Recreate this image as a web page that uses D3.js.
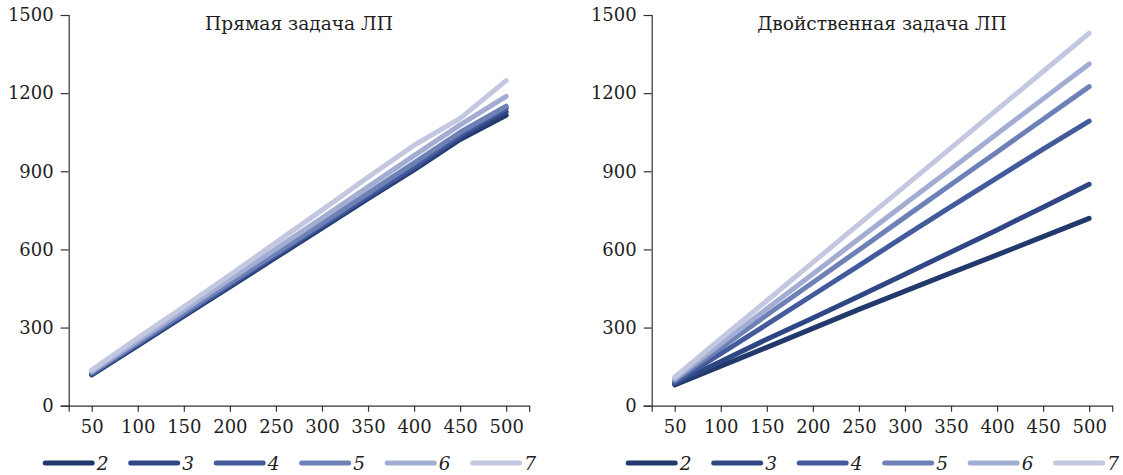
<!DOCTYPE html>
<html>

<head>
  <meta charset="utf-8">
  <title>Прямая и двойственная задача ЛП</title>
  <script src="https://cdn.jsdelivr.net/npm/d3@7/dist/d3.min.js"></script>
</head>
<style>
  html,
  body {
    margin: 0;
    padding: 0;
    overflow: hidden;
    background: #fff
  }

  svg {
    font-family: "DejaVu Serif", serif;
  }

  .axis path,
  .axis line {
    stroke: #333;
    stroke-width: 1.2;
  }

  .axis text {
    font-size: 18px;
    fill: #1e1e1e;
    font-family: "DejaVu Serif", serif;
  }
</style>

<body>
  <div id="chart"></div>
</body>
<script>
  // x values (same for both panels)
  const xValues = [50, 100, 150, 200, 250, 300, 350, 400, 450, 500]
  const seriesNames = ['2', '3', '4', '5', '6', '7']
  const colors = ['#22396b', '#2e4784', '#435b9c', '#6e81b6', '#a3acd3', '#c3c8e0']
  const yTicks = [0, 300, 600, 900, 1200, 1500]

  // Прямая задача ЛП
  const primal2 = [118, 231, 344, 456, 569, 682, 795, 905, 1022, 1115]
  const primal3 = [120, 234, 347, 460, 573, 687, 800, 910, 1030, 1128]
  const primal4 = [123, 237, 351, 465, 579, 692, 806, 920, 1040, 1142]
  const primal5 = [127, 241, 356, 471, 586, 700, 816, 932, 1050, 1150]
  const primal6 = [132, 250, 367, 485, 602, 720, 840, 960, 1078, 1188]
  const primal7 = [137, 260, 380, 502, 626, 751, 877, 1000, 1103, 1248]

  // Двойственная задача ЛП
  const dual2 = [80, 152, 224, 297, 370, 440, 510, 579, 649, 719]
  const dual3 = [85, 170, 255, 337, 420, 505, 590, 675, 762, 850]
  const dual4 = [90, 200, 312, 425, 538, 652, 764, 875, 985, 1093]
  const dual5 = [97, 222, 348, 473, 598, 724, 849, 974, 1100, 1225]
  const dual6 = [103, 238, 372, 506, 641, 775, 909, 1044, 1178, 1312]
  const dual7 = [110, 257, 403, 550, 697, 843, 990, 1137, 1283, 1430]

  const width = 1123, height = 475

  const svg = d3.select('#chart')
    .append('svg')
    .attr('width', width)
    .attr('height', height)

  function drawPanel(left, title, series) {
    const x = d3.scaleLinear().domain([25, 525]).range([left, left + 460.5])
    const y = d3.scaleLinear().domain([0, 1500]).range([405.7, 15])

    const g = svg.append('g')

    g.append('g')
      .attr('class', 'axis')
      .attr('transform', 'translate(0,405.7)')
      .call(d3.axisBottom(x).tickValues(xValues).tickSize(6).tickPadding(9).tickFormat(d3.format('d')))

    g.append('g')
      .attr('class', 'axis')
      .attr('transform', 'translate(' + left + ',0)')
      .call(d3.axisLeft(y).tickValues(yTicks).tickSize(8).tickPadding(7).tickFormat(d3.format('d')))

    g.append('text')
      .attr('x', (x.range()[0] + x.range()[1]) / 2)
      .attr('y', 29.5)
      .attr('text-anchor', 'middle')
      .style('font-size', '18.6px')
      .attr('fill', '#1e1e1e')
      .text(title)

    const line = d3.line()
      .x((d, i) => x(xValues[i]))
      .y(d => y(d))

    series.forEach((s, k) => {
      g.append('path')
        .datum(s)
        .attr('d', line)
        .attr('fill', 'none')
        .attr('stroke', colors[k])
        .attr('stroke-width', 5)
        .attr('stroke-linecap', 'round')
        .attr('stroke-linejoin', 'round')
    })

    // legend under the axis
    const legend = g.selectAll('.legend')
      .data(seriesNames)
      .enter().append('g')
      .attr('transform', (d, i) => 'translate(' + (left - 26 + i * 85.5) + ',463)')

    legend.append('line')
      .attr('x1', 2.5)
      .attr('x2', 49.5)
      .attr('stroke', (d, i) => colors[i])
      .attr('stroke-width', 5)
      .attr('stroke-linecap', 'round')

    legend.append('text')
      .attr('x', 54)
      .attr('y', 6.5)
      .style('font-size', '18.5px')
      .style('font-style', 'italic')
      .attr('fill', '#1e1e1e')
      .text(d => d)
  }

  drawPanel(68.7, 'Прямая задача ЛП', [primal2, primal3, primal4, primal5, primal6, primal7])
  drawPanel(651.7, 'Двойственная задача ЛП', [dual2, dual3, dual4, dual5, dual6, dual7])
</script>

</html>
